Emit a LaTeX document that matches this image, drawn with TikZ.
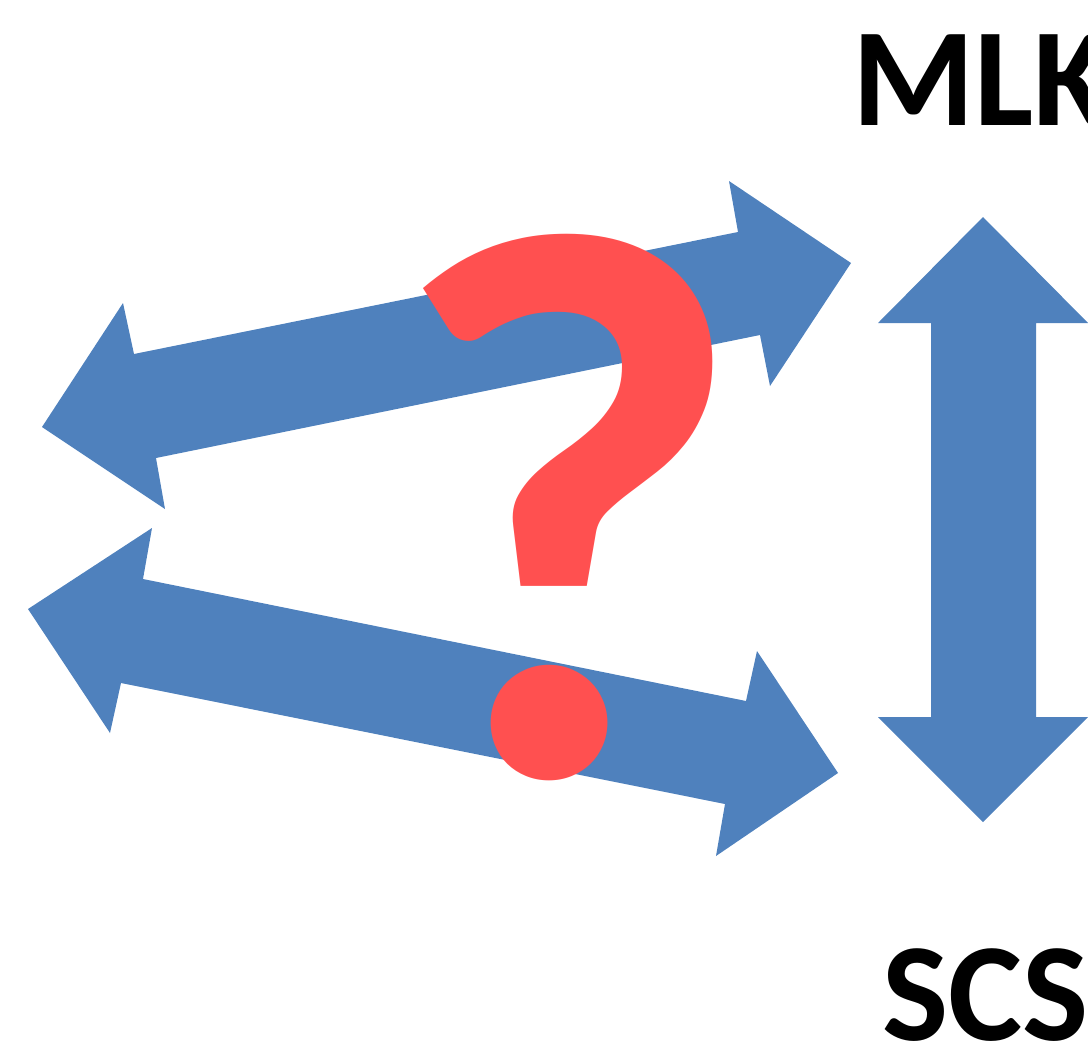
\documentclass[tikz,border=0pt]{standalone}
\usepackage{fontspec}
\setmainfont{Carlito}
\definecolor{arrowblue}{HTML}{4F81BD}
\definecolor{qred}{HTML}{FF5050}
\begin{document}
\begin{tikzpicture}[x=1pt,y=-1pt,
  arrowshape/.style={fill=arrowblue,draw=none},
  bigtext/.style={font=\fontsize{140}{140}\selectfont\bfseries,anchor=base west,inner sep=0pt}]
\useasboundingbox (0,0) rectangle (1088,1061);
\clip (0,0) rectangle (1088,1061);
% upper double arrow
\fill[arrowshape] (42,427) -- (123,303) -- (134,354) -- (738,232) -- (729,181) -- (851,263)
  -- (770,386) -- (760,335) -- (156,458) -- (165,509) -- cycle;
% lower double arrow
\fill[arrowshape] (28,609) -- (152,528) -- (143,579) -- (746,701) -- (757,651) -- (838,773)
  -- (716,856) -- (725,804) -- (121,683) -- (110,733) -- cycle;
% vertical double arrow
\fill[arrowshape] (983,217) -- (1088,323) -- (1036,323) -- (1036,717) -- (1088,717) -- (983,822)
  -- (878,717) -- (931,717) -- (931,323) -- (878,323) -- cycle;
% question mark
\node[text=qred,font=\fontsize{784}{784}\selectfont\bfseries,anchor=base,inner sep=0pt] (q) at (567,775) {?};
% labels
\node[bigtext] (mlk) at (852,125) {MLK};
\node[bigtext] (scs) at (882,1040) {SCS};
\end{tikzpicture}
\end{document}
